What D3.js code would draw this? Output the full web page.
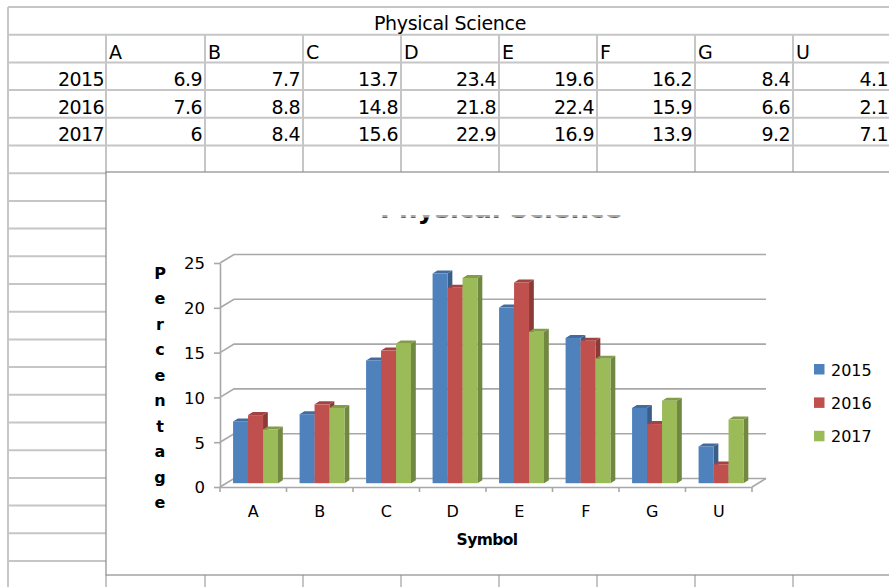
<!DOCTYPE html>
<html><head><meta charset="utf-8">
<script src="https://cdn.jsdelivr.net/npm/d3@7"></script>
<style>body{margin:0;background:#fff}svg{display:block;font-family:"DejaVu Sans",sans-serif}</style>
</head><body><svg id="c" width="889" height="587"></svg>
<script>
// ---------------- data ----------------
const title = "Physical Science";
const categories = ["A","B","C","D","E","F","G","U"];
const years = ["2015","2016","2017"];
const values2015 = [6.9,7.7,13.7,23.4,19.6,16.2,8.4,4.1];
const values2016 = [7.6,8.8,14.8,21.8,22.4,15.9,6.6,2.1];
const values2017 = [6,8.4,15.6,22.9,16.9,13.9,9.2,7.1];
const series = [values2015, values2016, values2017];
const yTicks = [0,5,10,15,20,25];
const yAxisTitle = "Percentage";
const xAxisTitle = "Symbol";
const colors = ["#4F81BD","#C0504D","#9BBB59"];

// ---------------- spreadsheet ----------------
const svg = d3.select("#c");
svg.append("rect").attr("width",889).attr("height",587).attr("fill","#fff");
const colEdges = [8,106,205,303,401,499,597,695,793,891];
const rowTop = 7, rowH = 27.7;
const rowY = i => rowTop + i*rowH;
const gridColor = "#c6c6c6";
const sheet = svg.append("g").attr("stroke", gridColor).attr("stroke-width", 2).attr("fill","none");
function ln(g,x1,y1,x2,y2){g.append("line").attr("x1",x1).attr("y1",y1).attr("x2",x2).attr("y2",y2);}
for (let i=0;i<=6;i++) ln(sheet,8,rowY(i),889,rowY(i));
colEdges.forEach(x => ln(sheet,x,rowY(1),x,rowY(6)));
ln(sheet,8,rowY(0),8,rowY(1));
for (let i=7;i<=21;i++) ln(sheet,8,rowY(i),106,rowY(i));
ln(sheet,8,rowY(6),8,587);
colEdges.slice(1).forEach(x => ln(sheet,x,575,x,587));

const tt = svg.append("g").attr("font-size",19).attr("fill","#000").attr("letter-spacing",-0.6);
tt.append("text").attr("x",450).attr("y",rowY(1)-4.5).attr("text-anchor","middle").attr("letter-spacing",-0.3).text(title);
categories.forEach((c,i)=> tt.append("text").attr("x",colEdges[i+1]+3).attr("y",rowY(2)-3.8).text(c));
years.forEach((yr,r)=>{
  tt.append("text").attr("x",104).attr("y",rowY(r+3)-4.2).attr("text-anchor","end").text(yr);
  series[r].forEach((v,i)=> tt.append("text").attr("x",colEdges[i+2]-3).attr("y",rowY(r+3)-4.2)
     .attr("text-anchor","end").text(String(v)));
});

// ---------------- chart ----------------
const chart = svg.append("g");
chart.append("rect").attr("x",106).attr("y",172).attr("width",800).attr("height",403)
  .attr("fill","#fff").attr("stroke","#8c8c8c").attr("stroke-width",1.2);

// clipped chart title (only the bottom of the glyphs shows)
const defs = svg.append("defs");
defs.append("clipPath").attr("id","clipA").append("rect").attr("x",300).attr("y",215).attr("width",400).attr("height",2.5);
defs.append("clipPath").attr("id","clipB").append("rect").attr("x",300).attr("y",217.5).attr("width",400).attr("height",20);
[["clipA","#a8a8a8"],["clipB","#000"]].forEach(([id,col])=>{
  chart.append("g").attr("clip-path",`url(#${id})`).append("text")
    .attr("x",501).attr("y",217.5).attr("text-anchor","middle").attr("font-size",26)
    .attr("font-weight","bold").attr("fill",col).text(title);
});

const x = d3.scaleBand().domain(categories).range([220,752]);
const xs = d3.scaleBand().domain(years).range([0,x.bandwidth()]).paddingInner(0).paddingOuter(0.72);
const y = d3.scaleLinear().domain([0,25]).range([487,263]);
const DX = 14, DY = -8.5;            // wall depth
const BSX = 2.3, BSY = -3.8;         // bar front plane offset
const BDX = 4.8, BDY = -3;           // bar depth
const wallColor = "#a8a8a8";

// side wall diagonals + back gridlines
const walls = chart.append("g").attr("stroke",wallColor).attr("stroke-width",1.6).attr("fill","none");
yTicks.forEach(t=>{
  walls.append("path").attr("d",
    `M${x.range()[0]},${y(t)}L${x.range()[0]+DX},${y(t)+DY}L${x.range()[1]+DX},${y(t)+DY}`);
});
walls.append("path").attr("d",`M${x.range()[1]},${y(0)}L${x.range()[1]+DX},${y(0)+DY}`);

// y axis
const yAxis = chart.append("g").attr("transform",`translate(${x.range()[0]},0)`)
  .call(d3.axisLeft(y).tickValues(yTicks).tickSize(6).tickPadding(9).tickSizeOuter(0));
yAxis.selectAll("path,line").attr("stroke",wallColor).attr("stroke-width",1.6);
yAxis.selectAll("text").attr("font-size",16.5).attr("font-family","DejaVu Sans").attr("fill","#000").attr("dy","0.36em");

// x axis
const xAxis = chart.append("g").attr("transform",`translate(0,${y(0)})`)
  .call(d3.axisBottom(x).tickSize(0).tickPadding(19));
xAxis.select("path").attr("stroke",wallColor).attr("stroke-width",1.6);
xAxis.selectAll("text").attr("font-size",16).attr("font-family","DejaVu Sans").attr("fill","#000");
categories.concat([null]).forEach((c)=>{
  const xx = c===null ? x.range()[1] : x(c);
  chart.append("line").attr("x1",xx).attr("x2",xx).attr("y1",y(0)).attr("y2",y(0)+5)
    .attr("stroke",wallColor).attr("stroke-width",1.6);
});

// bars
const bars = chart.append("g");
categories.forEach((c,i)=>{
  years.forEach((yr,s)=>{
    const v = series[s][i];
    const xl = x(c)+xs(yr)+BSX, xr = xl+xs.bandwidth();
    const yt = y(v)+BSY, yb = y(0)+BSY;
    const col = d3.color(colors[s]);
    bars.append("path").attr("fill",col.darker(0.9))
      .attr("d",`M${xr},${yt}L${xr+BDX},${yt+BDY}L${xr+BDX},${yb+BDY}L${xr},${yb}Z`);
    bars.append("path").attr("fill",col.darker(0.5))
      .attr("d",`M${xl},${yt}L${xl+BDX},${yt+BDY}L${xr+BDX},${yt+BDY}L${xr},${yt}Z`);
    bars.append("rect").attr("x",xl).attr("y",yt).attr("width",xr-xl).attr("height",yb-yt).attr("fill",col);
  });
});

// axis titles
yAxisTitle.split("").forEach((ch,i)=>{
  chart.append("text").attr("x",160).attr("y",278.5+25.5*i).attr("text-anchor","middle")
    .attr("font-size",16).attr("font-weight","bold").text(ch);
});
chart.append("text").attr("x",487).attr("y",545).attr("text-anchor","middle")
  .attr("font-size",15.5).attr("font-weight","bold").attr("letter-spacing",-0.6).text(xAxisTitle);

// legend
const lg = chart.append("g");
years.forEach((yr,s)=>{
  lg.append("rect").attr("x",814).attr("y",364+33.4*s).attr("width",10.5).attr("height",10.5).attr("fill",colors[s]);
  lg.append("text").attr("x",831).attr("y",375.5+33.4*s).attr("font-size",16).text(yr);
});
</script></body></html>
